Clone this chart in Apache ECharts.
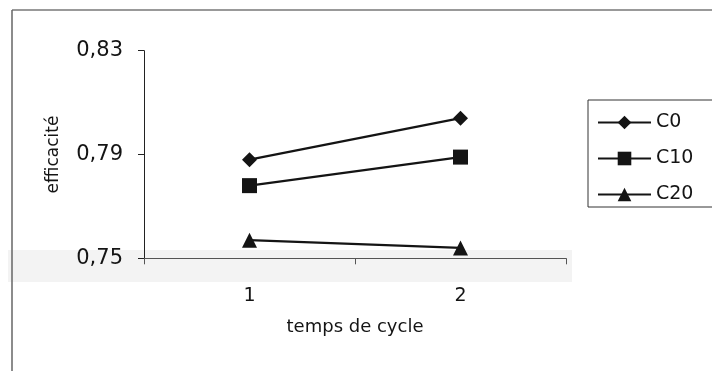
<!DOCTYPE html>
<html>
<head>
<meta charset="utf-8">
<script src="https://cdn.jsdelivr.net/npm/echarts@6/dist/echarts.min.js"></script>
<style>
  html, body { margin: 0; padding: 0; background: #fff; }
  #chart { width: 712px; height: 371px; }
</style>
</head>
<body>
<div id="chart"></div>
<script>
// Cycle times on the x axis
const categories = ['1', '2'];
// Efficiency for each concentration
const seriesNames = ['C0', 'C10', 'C20'];
const c0 = [0.788, 0.804];
const c10 = [0.778, 0.789];
const c20 = [0.757, 0.754];
// Labelled y ticks
const yTicks = [0.75, 0.79, 0.83];

const symbols = ['diamond', 'rect', 'triangle'];
const sizes = [15, 15, 15];
const values = [c0, c10, c20];

const ink = '#141414';
const font = 'DejaVu Sans';

const chart = echarts.init(document.getElementById('chart'), null, { renderer: 'canvas' });

chart.setOption({
  backgroundColor: '#ffffff',
  animation: false,
  graphic: [
    // faint scanned band across the base of the plot
    { type: 'rect', z: -10, shape: { x: 8, y: 250, width: 564, height: 32 }, style: { fill: '#f3f3f3' } },
    // outer frame, top and left edges
    { type: 'line', z: -5, shape: { x1: 12, y1: 10, x2: 712, y2: 10 }, style: { stroke: '#777', lineWidth: 1.5 } },
    { type: 'line', z: -5, shape: { x1: 12, y1: 10, x2: 12, y2: 371 }, style: { stroke: '#666', lineWidth: 1.5 } }
  ],
  grid: { left: 144, top: 50.7, right: 146, bottom: 112.7, containLabel: false },
  legend: {
    orient: 'vertical',
    left: 588,
    top: 100,
    padding: [13, 40, 3, 9],
    itemGap: 17,
    itemWidth: 53,
    itemHeight: 17,
    borderColor: '#333',
    borderWidth: 1,
    textStyle: { fontFamily: font, fontSize: 19, color: ink },
    data: seriesNames
  },
  xAxis: {
    type: 'category',
    data: categories,
    boundaryGap: true,
    name: 'temps de cycle',
    nameLocation: 'middle',
    nameGap: 60,
    nameTextStyle: { fontFamily: font, fontSize: 18, color: ink },
    axisLine: { lineStyle: { color: '#555', width: 1 } },
    axisTick: { show: true, length: 6, lineStyle: { color: '#555' } },
    axisLabel: { fontFamily: font, fontSize: 19, color: ink, margin: 28 },
    splitLine: { show: false }
  },
  yAxis: {
    type: 'value',
    min: 0.75,
    max: 0.83,
    name: 'efficacité',
    nameLocation: 'middle',
    nameGap: 82,
    nameTextStyle: { fontFamily: font, fontSize: 17, color: ink },
    axisLine: { show: true, lineStyle: { color: '#222', width: 1 } },
    axisTick: { show: true, length: 6, customValues: yTicks, lineStyle: { color: '#222' } },
    axisLabel: {
      fontFamily: font, fontSize: 21, color: ink, margin: 21,
      customValues: yTicks,
      formatter: v => v.toFixed(2).replace('.', ',')
    },
    splitLine: { show: false }
  },
  series: seriesNames.map((name, i) => ({
    name: name,
    type: 'line',
    data: values[i],
    symbol: symbols[i],
    symbolSize: sizes[i],
    lineStyle: { color: ink, width: 2.2 },
    itemStyle: { color: ink },
    emphasis: { disabled: true }
  }))
});
</script>
</body>
</html>
